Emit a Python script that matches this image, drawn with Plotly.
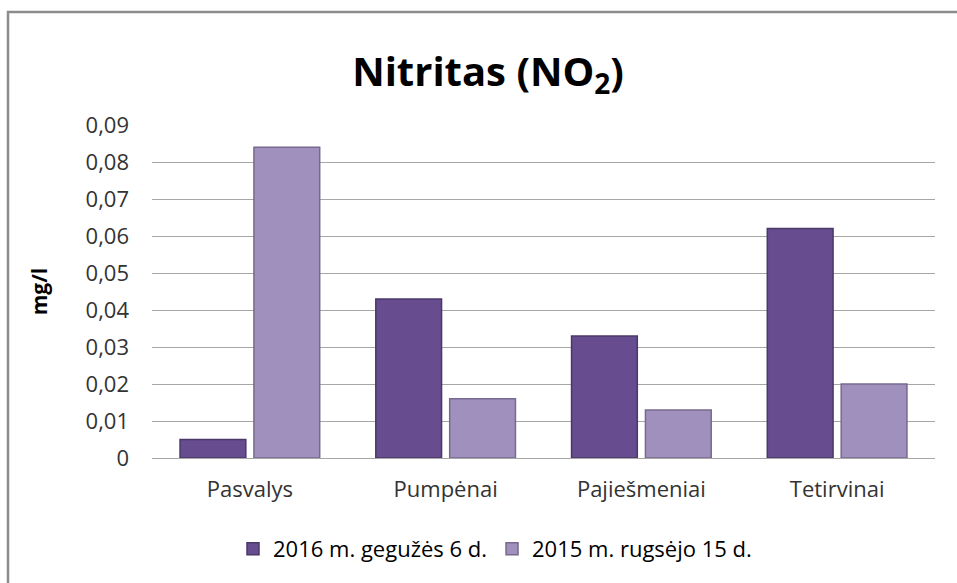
import plotly.graph_objects as go

# Nitrite concentrations at the sampling sites
sites = ["Pasvalys", "Pumpėnai", "Pajiešmeniai", "Tetirvinai"]
series_names = ["2016 m. gegužės 6 d.", "2015 m. rugsėjo 15 d."]
values_2016 = [0.005, 0.043, 0.033, 0.062]
values_2015 = [0.084, 0.016, 0.013, 0.020]
y_ticks = [0, 0.01, 0.02, 0.03, 0.04, 0.05, 0.06, 0.07, 0.08, 0.09]
y_tick_labels = ["0", "0,01", "0,02", "0,03", "0,04", "0,05", "0,06", "0,07", "0,08", "0,09"]

FONT = "Open Sans, Lato, sans-serif"

fig = go.Figure()
fig.add_trace(go.Bar(
    x=sites, y=values_2016, name=series_names[0],
    marker=dict(color="#674d8f", line=dict(color="#4a3868", width=1.5)),
))
fig.add_trace(go.Bar(
    x=sites, y=values_2015, name=series_names[1],
    marker=dict(color="#a090be", line=dict(color="#77698f", width=1.5)),
))

W, H = 957, 583
L, R, T, B = 152, 22, 125, 125
pw, ph = W - L - R, H - T - B

# outer chart frame (runs off the right and bottom edges)
fig.add_shape(
    type="rect", xref="paper", yref="paper",
    x0=(8 - L) / pw, x1=1.2, y0=-0.6, y1=(H - B - 12) / ph,
    line=dict(color="#8c8c8c", width=2.5), fillcolor="rgba(0,0,0,0)", layer="below",
)

fig.update_layout(
    width=W, height=H,
    margin=dict(l=L, r=R, t=T, b=B),
    paper_bgcolor="white", plot_bgcolor="white",
    barmode="group", bargap=0.245, bargroupgap=0.11,
    title=dict(
        text="<b>Nitritas (NO<sub>2</sub>)</b>",
        x=(488 - L) / pw, xref="paper", xanchor="center",
        y=1 - 72 / H, yanchor="middle",
        font=dict(family=FONT, size=40, color="#000000"),
    ),
    font=dict(family=FONT, color="#333333"),
    xaxis=dict(
        showgrid=False, showline=True, linecolor="#a6a6a6", linewidth=1,
        ticks="", ticklabelstandoff=12,
        tickfont=dict(size=22, color="#333333"),
    ),
    yaxis=dict(
        range=[0, 0.09], tickvals=y_ticks, ticktext=y_tick_labels,
        showgrid=True, gridcolor="#a6a6a6", gridwidth=1,
        zeroline=False, showline=False,
        ticks="", ticklabelstandoff=22,
        tickfont=dict(size=22, color="#333333"),
        title=dict(text="<b>mg/l</b>", font=dict(size=21, color="#000000"), standoff=32),
    ),
    legend=dict(
        orientation="h", x=(495 - L) / pw, xanchor="center",
        y=(H - B - 549) / ph, yanchor="middle",
        font=dict(size=22, color="#000000"),
        itemwidth=30, tracegroupgap=0,
    ),
    showlegend=True,
)

fig.write_html("out.html")
